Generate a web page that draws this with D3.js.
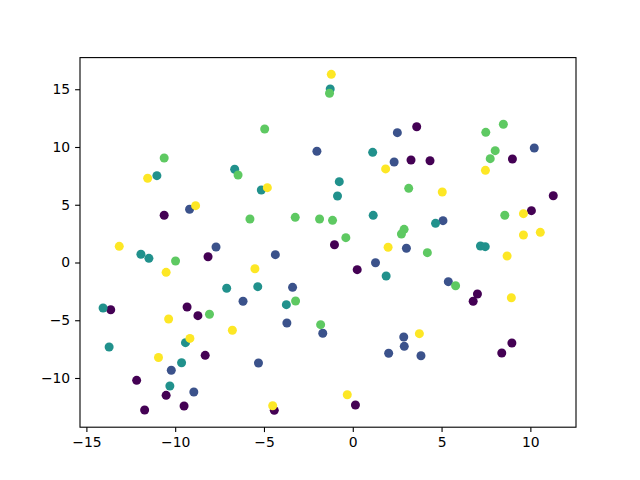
<!DOCTYPE html>
<html>
<head>
<meta charset="utf-8">
<script src="https://cdn.jsdelivr.net/npm/d3@7"></script>
<style>
  body { margin: 0; background: #fff; }
  svg { display: block; font-family: "DejaVu Sans", sans-serif; }
</style>
</head>
<body>
<div id="chart"></div>
<script>
// one array of [x, y] per colour class (viridis 0..4)
var class0 = [[3.6,11.75],[3.28,8.87],[4.35,8.81],[8.99,8.96],[11.29,5.78],[10.06,4.49],[-10.62,4.09],
  [-1.03,1.54],[-8.15,0.50],[0.25,-0.62],[7.02,-2.73],[6.78,-3.36],[-13.63,-4.09],[-9.33,-3.85],
  [-8.72,-4.60],[-8.31,-8.04],[8.96,-6.97],[8.39,-7.84],[-12.17,-10.20],[-10.51,-11.50],
  [-11.72,-12.77],[-9.50,-12.42],[0.15,-12.34],[-4.42,-12.80]];
var class1 = [[-9.19,4.61],[-7.70,1.34],[-2.02,9.63],[2.51,11.24],[2.33,8.70],[3.02,1.23],[5.08,3.62],
  [10.22,9.91],[5.38,-1.66],[3.84,-8.07],[-4.36,0.68],[1.28,-0.02],[-3.39,-2.15],[-6.18,-3.36],
  [-3.71,-5.24],[-1.69,-6.13],[2.87,-6.45],[2.90,-7.26],[2.02,-7.86],[-5.31,-8.70],[-10.22,-9.33],
  [-8.95,-11.21]];
var class2 = [[-11.03,7.52],[-6.65,8.07],[-1.27,15.02],[1.12,9.54],[-0.76,7.00],[-0.86,5.76],[-5.15,6.28],
  [1.15,4.08],[4.66,3.39],[7.19,1.43],[7.46,1.37],[1.88,-1.17],[-5.35,-2.09],[-3.74,-3.65],
  [-11.93,0.71],[-11.48,0.36],[-7.10,-2.23],[-14.06,-3.94],[-9.42,-6.94],[-13.72,-7.32],
  [-9.64,-8.68],[-10.30,-10.69]];
var class3 = [[-10.62,9.05],[-6.46,7.58],[-5.79,3.77],[-1.31,14.65],[-4.96,11.56],[3.15,6.42],[-3.24,3.91],
  [-1.87,3.77],[-1.14,3.65],[2.89,2.87],[2.74,2.47],[-0.39,2.15],[4.2,0.85],[8.48,11.97],[7.49,11.27],
  [8.02,9.68],[7.74,8.99],[8.56,4.09],[5.79,-2.01],[-3.22,-3.33],[-1.81,-5.38],[-9.98,0.13],
  [-8.07,-4.48]];
var class4 = [[-11.55,7.29],[-8.85,4.92],[-13.15,1.40],[-1.21,16.29],[1.85,8.10],[-4.81,6.48],[5.04,6.10],
  [1.99,1.32],[7.47,7.98],[9.61,4.23],[9.61,2.38],[10.56,2.61],[8.69,0.56],[8.93,-3.05],[3.75,-6.16],
  [-5.51,-0.54],[-0.31,-11.45],[-4.51,-12.40],[-10.51,-0.85],[-10.37,-4.89],[-6.78,-5.87],
  [-9.17,-6.57],[-10.94,-8.23]];

var xTicks = [-15, -10, -5, 0, 5, 10];
var yTicks = [-10, -5, 0, 5, 10, 15];

var W = 640, H = 480;
var margin = {top: 57.6, right: 64, bottom: 52.8, left: 80};
var w = W - margin.left - margin.right;
var h = H - margin.top - margin.bottom;

var points = [];
[class0, class1, class2, class3, class4].forEach(function(arr, c) {
  arr.forEach(function(p) { points.push({x: p[0], y: p[1], c: c}); });
});

var x = d3.scaleLinear().domain([-15.36, 12.57]).range([0, w]);
var y = d3.scaleLinear().domain([-14.26, 17.74]).range([h, 0]);
var color = d3.scaleSequential(d3.interpolateViridis).domain([0, 4]);

var svg = d3.select("#chart").append("svg")
  .attr("width", W).attr("height", H)
  .append("g")
  .attr("transform", "translate(" + margin.left + "," + margin.top + ")");

svg.selectAll("circle")
  .data(points)
  .enter().append("circle")
  .attr("cx", function(d) { return x(d.x); })
  .attr("cy", function(d) { return y(d.y); })
  .attr("r", 4.5)
  .style("fill", function(d) { return color(d.c); });

var fmt = function(d) { return d < 0 ? "\u2212" + Math.abs(d) : d; };

var xAxis = svg.append("g")
  .attr("transform", "translate(0," + h + ")")
  .call(d3.axisBottom(x).tickValues(xTicks).tickFormat(fmt).tickSizeOuter(0).tickSize(4.9).tickPadding(4.9));
var yAxis = svg.append("g")
  .call(d3.axisLeft(y).tickValues(yTicks).tickFormat(fmt).tickSizeOuter(0).tickSize(4.9).tickPadding(4.9));

[xAxis, yAxis].forEach(function(a) {
  a.select(".domain").remove();
  a.selectAll("line").style("stroke", "#000").style("stroke-width", 1.1);
  a.selectAll("text").style("font-size", "13.9px").style("fill", "#000")
    .style("font-family", "DejaVu Sans, sans-serif");
});

svg.append("rect")
  .attr("width", w).attr("height", h)
  .style("fill", "none").style("stroke", "#000").style("stroke-width", 1.1);
</script>
</body>
</html>
